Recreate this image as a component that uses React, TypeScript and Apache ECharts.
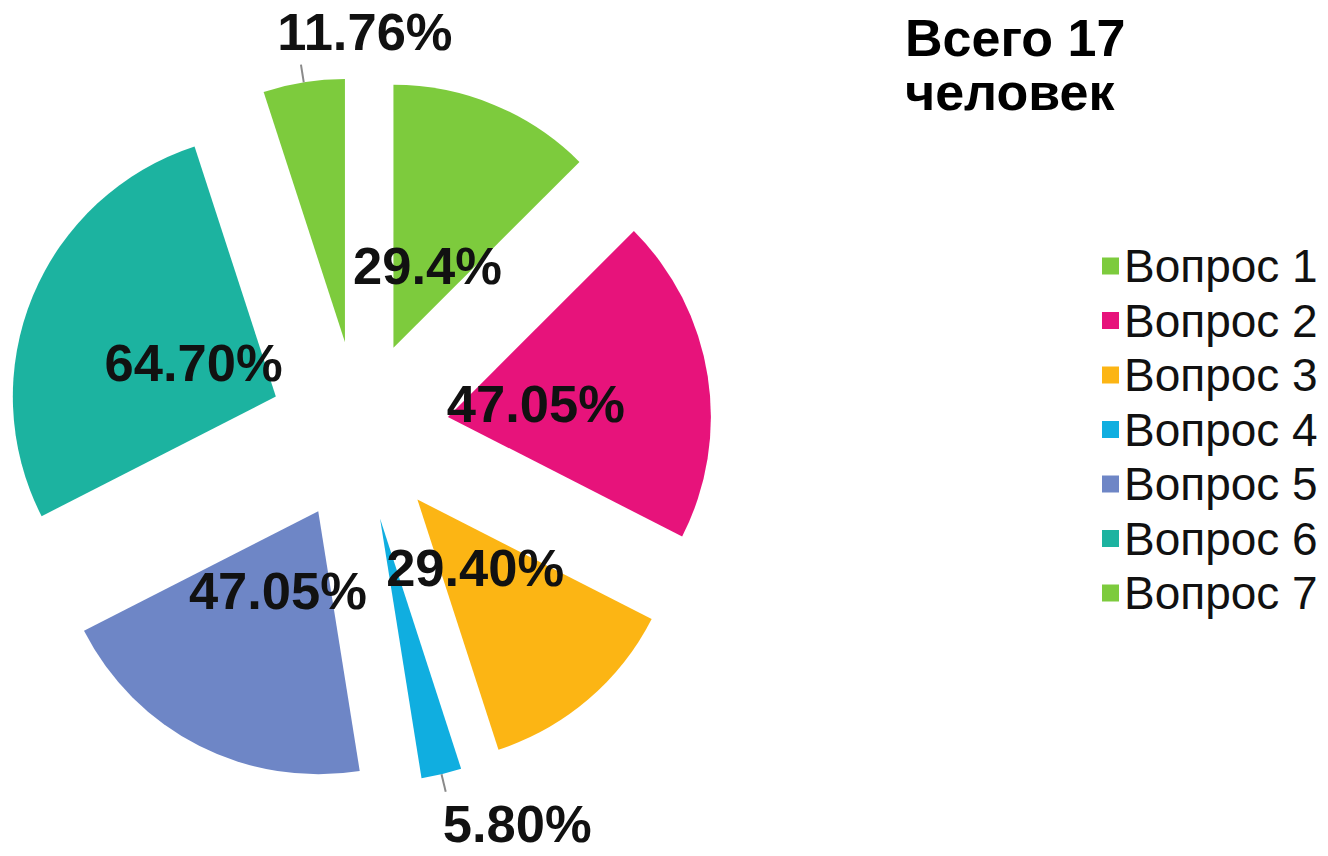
import React, { useEffect, useRef } from "react";
import * as echarts from "echarts";

const categories = ["Вопрос 1", "Вопрос 2", "Вопрос 3", "Вопрос 4", "Вопрос 5", "Вопрос 6", "Вопрос 7"];
const values = [29.4, 47.05, 29.4, 5.8, 47.05, 64.7, 11.76];
const labelTexts = ["29.4%", "47.05%", "29.40%", "5.80%", "47.05%", "64.70%", "11.76%"];
const colors = ["#7DCB3D", "#E7137B", "#FCB514", "#10AEE0", "#6E86C6", "#1CB3A0", "#7DCB3D"];
const outsideLabelIdx = [3, 6];
const titleText = "Всего 17\nчеловек";

const FONT = "'Liberation Sans', Arial, sans-serif";

export default function App() {
  const ref = useRef<HTMLDivElement>(null);
  useEffect(() => {
    if (!ref.current) return;
    const chart = echarts.init(ref.current, undefined, { renderer: "svg" });
    const center = [359, 431];
    const R = 263;
    const explode = 90;
    const labelStyle = { fontSize: 52.5, fontWeight: "bold", color: "#111", fontFamily: FONT };
    const transparent = { color: "rgba(0,0,0,0)" };

    const mainData = categories.map((name, i) => ({
      name,
      value: values[i],
      selected: true,
      itemStyle: { color: colors[i] },
    }));
    const insideLabelData = categories.map((name, i) => ({
      name,
      value: values[i],
      selected: true,
      label: { show: !outsideLabelIdx.includes(i) },
    }));
    const outsideLabelData = categories.map((name, i) => {
      const outside = outsideLabelIdx.includes(i);
      return {
        name,
        value: values[i],
        label: { show: outside },
        labelLine: { show: outside },
      };
    });

    chart.setOption({
      animation: false,
      backgroundColor: "#ffffff",
      title: {
        text: titleText,
        left: 900,
        top: 6,
        textStyle: { fontSize: 52, fontWeight: "bold", lineHeight: 54, color: "#000", fontFamily: FONT },
      },
      legend: {
        orient: "vertical",
        left: 1097,
        top: 238,
        icon: "rect",
        itemWidth: 17,
        itemHeight: 17,
        itemGap: 8.5,
        selectedMode: false,
        data: categories.map((name, i) => ({ name, itemStyle: { color: colors[i] } })),
        textStyle: { fontSize: 46, lineHeight: 46, color: "#111", fontFamily: FONT },
      },
      series: [
        {
          type: "pie",
          z: 2,
          center,
          radius: R,
          startAngle: 90,
          clockwise: true,
          selectedMode: "multiple",
          selectedOffset: explode,
          avoidLabelOverlap: false,
          emphasis: { disabled: true },
          label: { show: false },
          labelLine: { show: false },
          data: mainData,
        },
        {
          type: "pie",
          z: 5,
          center,
          radius: R + explode,
          startAngle: 90,
          clockwise: true,
          selectedMode: false,
          avoidLabelOverlap: false,
          silent: true,
          legendHoverLink: false,
          emphasis: { disabled: true },
          itemStyle: transparent,
          label: {
            position: "outside",
            formatter: (p: any) => labelTexts[p.dataIndex],
            ...labelStyle,
          },
          labelLine: { length: 18, length2: 0, lineStyle: { color: "#8a8a8a", width: 2 } },
          labelLayout: (p: any) => {
            const pts = p.labelLinePoints;
            if (!pts) return { hideOverlap: false };
            const end = pts[1];
            if (p.dataIndex === 6) {
              return {
                x: end[0] + 64,
                y: end[1] - 7,
                align: "center",
                verticalAlign: "bottom",
                hideOverlap: false,
                labelLinePoints: [pts[0], pts[1], pts[1]],
              };
            }
            if (p.dataIndex === 3) {
              return {
                x: end[0] - 3,
                y: end[1] + 32,
                align: "left",
                verticalAlign: "middle",
                hideOverlap: false,
                labelLinePoints: [pts[0], pts[1], pts[1]],
              };
            }
            return { hideOverlap: false };
          },
          data: outsideLabelData,
        },
        {
          type: "pie",
          z: 10,
          center,
          radius: 172,
          startAngle: 90,
          clockwise: true,
          selectedMode: "multiple",
          selectedOffset: explode,
          avoidLabelOverlap: false,
          silent: true,
          legendHoverLink: false,
          emphasis: { disabled: true },
          itemStyle: transparent,
          label: {
            position: "inside",
            formatter: (p: any) => labelTexts[p.dataIndex],
            ...labelStyle,
          },
          labelLine: { show: false },
          labelLayout: { hideOverlap: false },
          data: insideLabelData,
        },
      ],
    });
    return () => chart.dispose();
  }, []);
  return (
    <div
      ref={ref}
      style={{ position: "fixed", left: 0, top: 0, width: 1328, height: 856, background: "#fff" }}
    />
  );
}
